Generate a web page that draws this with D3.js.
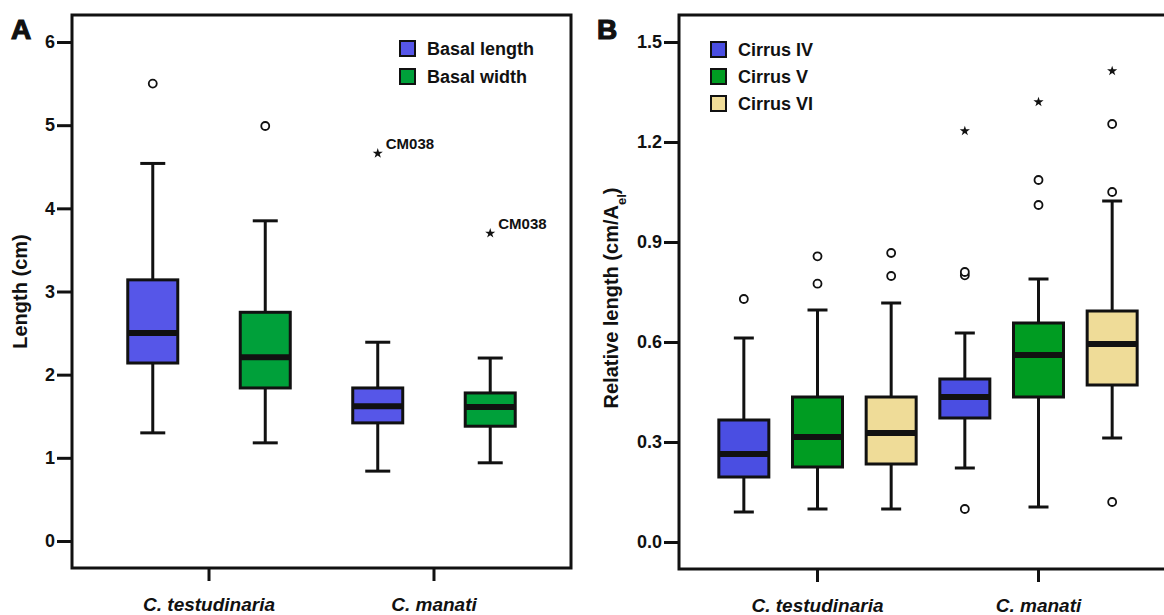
<!DOCTYPE html>
<html>
<head>
<meta charset="utf-8">
<script src="https://cdn.jsdelivr.net/npm/d3@7"></script>
<style>
  body { margin: 0; background: #fff; }
  svg text { font-family: "Liberation Sans", Arial, sans-serif; font-weight: bold; fill: #111; }
  .tick line { stroke: #111; stroke-width: 3; }
</style>
</head>
<body>
<svg id="chart" width="1164" height="615"></svg>
<script>
// --- Data ---
const groups = ["C. testudinaria", "C. manati"];

// panel A
const seriesA = ["Basal length", "Basal width"];
const boxGroupA = [0, 0, 1, 1];
const boxSeriesA = [0, 1, 0, 1];
const lowA = [1.30, 1.18, 0.84, 0.94];
const q1A = [2.14, 1.84, 1.42, 1.38];
const medA = [2.50, 2.21, 1.62, 1.61];
const q3A = [3.14, 2.75, 1.84, 1.78];
const highA = [4.54, 3.85, 2.39, 2.20];
const outliersA = [[5.50], [4.99], [], []];
const extremesA = [[], [], [4.66], [3.70]];
const extremeLabelsA = [[], [], ["CM038"], ["CM038"]];
const ticksA = [0, 1, 2, 3, 4, 5, 6];

// panel B
const seriesB = ["Cirrus IV", "Cirrus V", "Cirrus VI"];
const boxGroupB = [0, 0, 0, 1, 1, 1];
const boxSeriesB = [0, 1, 2, 0, 1, 2];
const lowB = [0.090, 0.099, 0.099, 0.222, 0.105, 0.312];
const q1B = [0.195, 0.225, 0.234, 0.372, 0.435, 0.471];
const medB = [0.264, 0.315, 0.327, 0.435, 0.561, 0.594];
const q3B = [0.366, 0.435, 0.435, 0.489, 0.657, 0.693];
const highB = [0.612, 0.696, 0.717, 0.627, 0.789, 1.023];
const outliersB = [[0.729], [0.775, 0.857], [0.798, 0.867], [0.099, 0.800, 0.810], [1.011, 1.086], [0.120, 1.050, 1.254]];
const extremesB = [[], [], [], [1.233], [1.320], [1.413]];
const ticksB = [0.0, 0.3, 0.6, 0.9, 1.2, 1.5];

const colorsA = ["#5656e8", "#00a03a"];
const colorsB = ["#4a4ee2", "#009c22", "#efdc98"];

const svg = d3.select('#chart');

function drawPanel(opt) {
  const g = svg.append('g');
  const { x0, x1, y0, y1 } = opt.frame;

  const y = d3.scaleLinear().domain(opt.yDomain).range([y1, y0]);
  const x = d3.scaleBand().domain(groups).range([x0, x1]).paddingInner(0).paddingOuter(opt.outerPad);
  const xs = d3.scalePoint().domain(opt.series).range([0, x.bandwidth()]).padding(0.5);
  const cx = i => x(groups[opt.boxGroup[i]]) + xs(opt.series[opt.boxSeries[i]]);

  // y axis
  const ya = g.append('g').attr('transform', `translate(${x0},0)`)
    .call(d3.axisLeft(y).tickValues(opt.ticks).tickSize(15).tickPadding(2).tickFormat(opt.fmt));
  ya.select('.domain').remove();
  ya.selectAll('text').style('font-size', '18px');

  // x axis
  const xa = g.append('g').attr('transform', `translate(0,${y1})`)
    .call(d3.axisBottom(x).tickSize(13).tickSizeOuter(0).tickPadding(17));
  xa.select('.domain').remove();
  xa.selectAll('text').style('font-size', '19px').style('font-style', 'italic');

  // frame
  g.append('rect').attr('x', x0).attr('y', y0).attr('width', x1 - x0).attr('height', y1 - y0)
    .attr('fill', 'none').attr('stroke', '#111').attr('stroke-width', 3);

  const idx = d3.range(opt.low.length);
  const bw = 50, cw = opt.capW;

  // whiskers
  const wk = g.append('g').attr('stroke', '#111').attr('stroke-width', 3);
  idx.forEach(i => {
    wk.append('line').attr('x1', cx(i)).attr('x2', cx(i)).attr('y1', y(opt.low[i])).attr('y2', y(opt.high[i]));
    [opt.low[i], opt.high[i]].forEach(v => {
      wk.append('line').attr('x1', cx(i) - cw / 2).attr('x2', cx(i) + cw / 2).attr('y1', y(v)).attr('y2', y(v));
    });
  });

  // boxes
  g.append('g').selectAll('rect').data(idx).join('rect')
    .attr('x', i => cx(i) - bw / 2).attr('width', bw)
    .attr('y', i => y(opt.q3[i])).attr('height', i => y(opt.q1[i]) - y(opt.q3[i]))
    .attr('fill', i => opt.colors[opt.boxSeries[i]])
    .attr('stroke', '#111').attr('stroke-width', 3);

  // medians
  g.append('g').selectAll('line').data(idx).join('line')
    .attr('x1', i => cx(i) - bw / 2).attr('x2', i => cx(i) + bw / 2)
    .attr('y1', i => y(opt.med[i])).attr('y2', i => y(opt.med[i]))
    .attr('stroke', '#111').attr('stroke-width', 6);

  // outliers
  const pts = idx.flatMap(i => opt.outliers[i].map(v => ({ i, v })));
  g.append('g').selectAll('circle').data(pts).join('circle')
    .attr('cx', d => cx(d.i)).attr('cy', d => y(d.v)).attr('r', 4)
    .attr('fill', '#fff').attr('stroke', '#111').attr('stroke-width', 1.8);

  // extremes
  const ext = idx.flatMap(i => opt.extremes[i].map((v, k) => ({ i, v, label: (opt.extremeLabels && opt.extremeLabels[i][k]) || '' })));
  const star = d3.symbol().type(d3.symbolStar).size(32);
  g.append('g').selectAll('path').data(ext).join('path')
    .attr('d', star).attr('transform', d => `translate(${cx(d.i)},${y(d.v)})`).attr('fill', '#111');
  g.append('g').selectAll('text').data(ext.filter(d => d.label)).join('text')
    .attr('x', d => cx(d.i) + 8).attr('y', d => y(d.v) - 4)
    .style('font-size', '15px').text(d => d.label);

  // legend
  const lg = g.append('g').attr('transform', `translate(${opt.legend.x},${opt.legend.y})`);
  opt.series.forEach((s, k) => {
    const row = lg.append('g').attr('transform', `translate(0,${k * opt.legend.dy})`);
    row.append('rect').attr('x', 0).attr('y', -14).attr('width', 15).attr('height', 15)
      .attr('fill', opt.colors[k]).attr('stroke', '#111').attr('stroke-width', 2);
    row.append('text').attr('x', 27).attr('y', 0).style('font-size', '18px').text(s);
  });

  // y title
  const yt = g.append('text').attr('transform', `translate(${opt.yTitle.x},${(y0 + y1) / 2 + opt.yTitle.dy}) rotate(-90)`)
    .attr('text-anchor', 'middle').style('font-size', '20px');
  opt.yTitle.parts.forEach(p => {
    const t = yt.append('tspan').text(p.t);
    if (p.sub) t.attr('baseline-shift', 'sub').style('font-size', '13px');
  });

  // panel letter
  svg.append('text').attr('x', opt.letter.x).attr('y', opt.letter.y)
    .style('font-size', '28px').style('font-weight', '900')
    .attr('stroke', '#111').attr('stroke-width', 1.2).text(opt.letter.t);
}

drawPanel({
  frame: { x0: 72, x1: 571, y0: 15, y1: 568 },
  yDomain: [-0.325, 6.325], ticks: ticksA, fmt: d3.format('d'),
  outerPad: 0.109, series: seriesA, colors: colorsA, capW: 25,
  boxGroup: boxGroupA, boxSeries: boxSeriesA,
  low: lowA, q1: q1A, med: medA, q3: q3A, high: highA,
  outliers: outliersA, extremes: extremesA, extremeLabels: extremeLabelsA,
  legend: { x: 400, y: 55, dy: 28 },
  yTitle: { x: 27, dy: 0, parts: [{ t: 'Length (cm)' }] },
  letter: { x: 11, y: 39, t: 'A' }
});

drawPanel({
  frame: { x0: 679, x1: 1177, y0: 15, y1: 569 },
  yDomain: [-0.081, 1.581], ticks: ticksB, fmt: d3.format('.1f'),
  outerPad: 0.1267, series: seriesB, colors: colorsB, capW: 20,
  boxGroup: boxGroupB, boxSeries: boxSeriesB,
  low: lowB, q1: q1B, med: medB, q3: q3B, high: highB,
  outliers: outliersB, extremes: extremesB,
  legend: { x: 711, y: 56, dy: 27 },
  yTitle: { x: 618, dy: 6, parts: [{ t: 'Relative length (cm/A' }, { t: 'el', sub: true }, { t: ')' }] },
  letter: { x: 597, y: 39, t: 'B' }
});
</script>
</body>
</html>
